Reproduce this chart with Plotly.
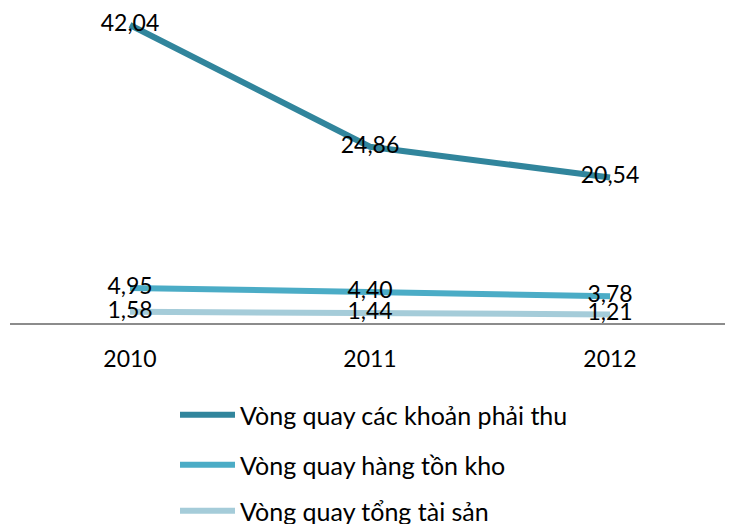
import plotly.graph_objects as go

years = ["2010", "2011", "2012"]
series_names = ["Vòng quay các khoản phải thu", "Vòng quay hàng tồn kho", "Vòng quay tổng tài sản"]
receivables = [42.04, 24.86, 20.54]
inventory = [4.95, 4.40, 3.78]
total_assets = [1.58, 1.44, 1.21]
colors = ["#31859C", "#4BACC6", "#A5CCD9"]

FONT = "Lato, Open Sans, sans-serif"

fig = go.Figure()
values = [receivables, inventory, total_assets]
legends = ["legend", "legend2", "legend3"]
for name, vals, col, lg in zip(series_names, values, colors, legends):
    fig.add_trace(go.Scatter(
        x=years, y=vals, name=name, mode="lines+text",
        line=dict(color=col, width=6),
        text=vals, texttemplate="%{y:.2f}", textposition="middle center",
        textfont=dict(family=FONT, size=23, color="black"),
        legend=lg, cliponaxis=False,
    ))

# page body has an 8px margin: figure origin sits at (8, 8) in the screenshot
OFF = 8
PT, PB = 0, 315          # plot area top/bottom in figure pixels
H = PB - PT
PL, PW = 2, 720
def py(pix):
    return (PB - (pix - OFF)) / H

leg_common = dict(font=dict(family=FONT, size=25, color="black"),
                  xanchor="left", yanchor="middle", itemwidth=55,
                  bgcolor="rgba(0,0,0,0)", borderwidth=0)
lx = (167 - PL) / PW
fig.update_layout(
    width=733, height=524,
    margin=dict(l=PL, r=733 - PL - PW, t=PT, b=524 - PB, autoexpand=False),
    paper_bgcolor="white", plot_bgcolor="white",
    separators=",.",
    showlegend=True,
    font=dict(family=FONT, size=23, color="black"),
    xaxis=dict(type="category", range=[-0.5, 2.5], showgrid=False, zeroline=False,
               showline=True, linecolor="#8c8c8c", linewidth=1.5,
               ticks="", ticklabelstandoff=15,
               tickfont=dict(family=FONT, size=23, color="black")),
    yaxis=dict(range=[0, H / 7.088], visible=False, showgrid=False, zeroline=False),
    legend=dict(x=lx, y=py(415), **leg_common),
    legend2=dict(x=lx, y=py(465), **leg_common),
    legend3=dict(x=lx, y=py(511), **leg_common),
)

fig.write_html("out.html")
